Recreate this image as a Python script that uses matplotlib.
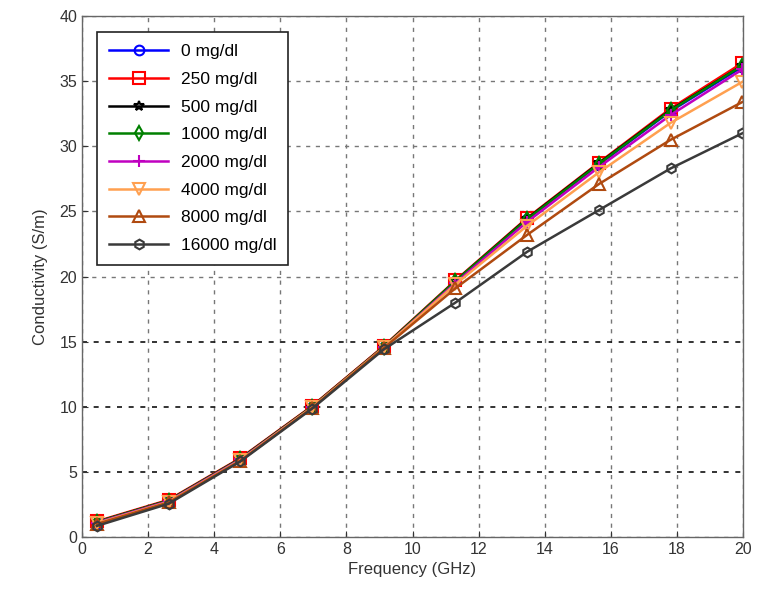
import matplotlib
matplotlib.use("Agg")
import matplotlib.pyplot as plt

plt.rcParams['font.family'] = ['Liberation Sans', 'DejaVu Sans']

# frequency points (GHz)
freq = [0.45, 2.62, 4.79, 6.96, 9.13, 11.30, 13.47, 15.64, 17.81, 19.98]

# conductivity (S/m) for each glucose concentration
s_0 = [1.1, 2.75, 6.0, 10.0, 14.6, 19.6, 24.4, 28.6, 32.7, 36.1]
s_250 = [1.2, 2.85, 6.05, 10.05, 14.65, 19.7, 24.5, 28.75, 32.9, 36.4]
s_500 = [1.15, 2.8, 6.0, 10.0, 14.6, 19.65, 24.45, 28.7, 32.8, 36.2]
s_1000 = [1.15, 2.8, 6.0, 10.0, 14.6, 19.65, 24.4, 28.65, 32.75, 36.2]
s_2000 = [1.1, 2.75, 5.95, 9.95, 14.55, 19.5, 24.2, 28.4, 32.4, 35.9]
s_4000 = [1.05, 2.7, 5.9, 9.95, 14.55, 19.4, 23.9, 28.0, 31.8, 34.95]
s_8000 = [1.0, 2.65, 5.85, 9.9, 14.5, 19.1, 23.2, 27.1, 30.5, 33.4]
s_16000 = [0.85, 2.55, 5.8, 9.85, 14.4, 18.0, 21.9, 25.1, 28.3, 31.0]

labels = ["0 mg/dl", "250 mg/dl", "500 mg/dl", "1000 mg/dl",
          "2000 mg/dl", "4000 mg/dl", "8000 mg/dl", "16000 mg/dl"]

fig = plt.figure(figsize=(7.59, 5.94), dpi=100)
ax = fig.add_axes([0.108, 0.096, 0.871, 0.877])

styles = [
    (s_0, "#0000ff", "o", 7),
    (s_250, "#ff0000", "s", 8),
    (s_500, "#000000", "*", 7),
    (s_1000, "#008000", "d", 7),
    (s_2000, "#c000c0", "+", 9),
    (s_4000, "#ffa050", "v", 8),
    (s_8000, "#b04a10", "^", 8),
    (s_16000, "#3a3a3a", "h", 7),
]
for (vals, col, mk, ms), lab in zip(styles, labels):
    ax.plot(freq, vals, color=col, marker=mk, markersize=ms, markerfacecolor="none",
            markeredgewidth=1.5, linewidth=1.8, label=lab)

ax.set_xlim(0, 20)
ax.set_ylim(0, 40)
ax.set_xticks(range(0, 21, 2))
ax.set_yticks(range(0, 41, 5))
ax.tick_params(direction="in", labelsize=11.5, colors="#333333", length=4)
for sp in ax.spines.values():
    sp.set_color("#666666")
    sp.set_linewidth(1.0)

ax.grid(True, linestyle=(0, (3, 4)), color="#777777", linewidth=1.0)
# lower horizontal grid lines are darker
for t, gl in zip(ax.get_yticks(), ax.get_ygridlines()):
    if t in (5, 10, 15):
        gl.set_color("#111111")
        gl.set_linewidth(1.2)

ax.set_xlabel("Frequency (GHz)", fontsize=12, color="#333333", labelpad=4)
ax.set_ylabel("Conductivity (S/m)", fontsize=12, color="#333333", labelpad=8)

leg = ax.legend(loc="upper left", bbox_to_anchor=(0.023, 0.969), borderaxespad=0,
                fontsize=12.5, frameon=True, fancybox=False, edgecolor="#222222",
                framealpha=1, handlelength=3.4, handletextpad=0.7,
                labelspacing=0.72, borderpad=0.7)
leg.get_frame().set_linewidth(1.2)

fig.savefig("out.png", dpi=100)
